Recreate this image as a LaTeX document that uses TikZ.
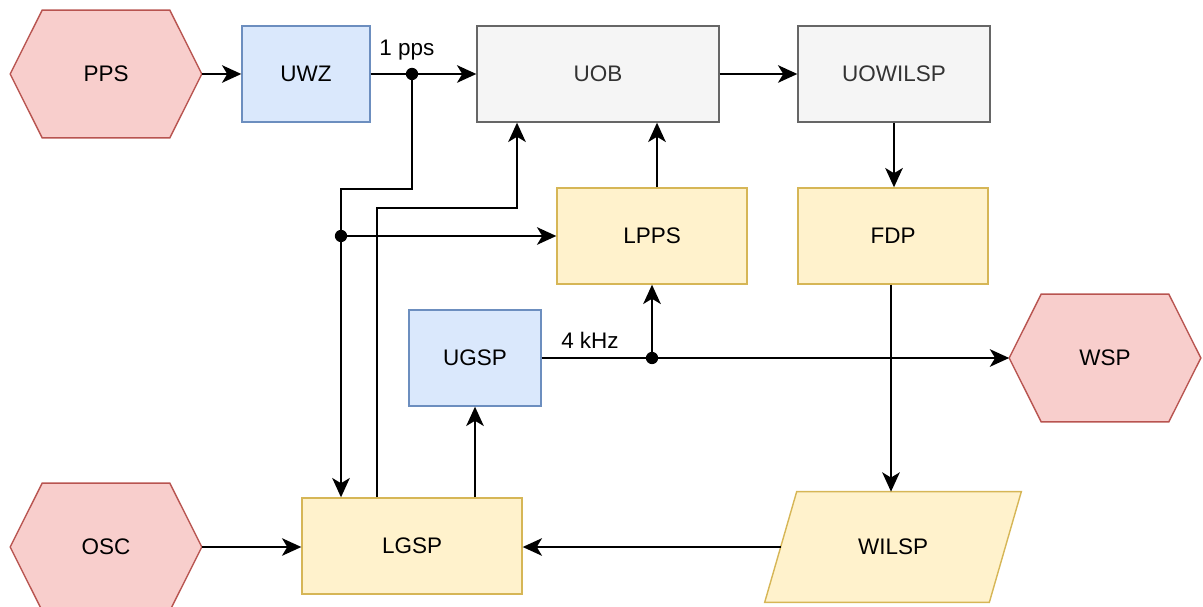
\documentclass[tikz,border=0pt]{standalone}
\usepackage{fontspec}
\setmainfont{Liberation Sans}
\usetikzlibrary{arrows.meta,backgrounds}
\definecolor{redfill}{HTML}{F8CECC}
\definecolor{redline}{HTML}{B85450}
\definecolor{bluefill}{HTML}{DAE8FC}
\definecolor{blueline}{HTML}{6C8EBF}
\definecolor{yelfill}{HTML}{FFF2CC}
\definecolor{yelline}{HTML}{D6B656}
\definecolor{grayfill}{HTML}{F5F5F5}
\definecolor{grayline}{HTML}{666666}
\definecolor{graytext}{HTML}{333333}
\tikzset{
  every node/.style={font=\fontsize{12.8}{15}\selectfont, inner sep=0pt},
  box/.style={draw, line width=0.8pt, minimum height=1.92cm},
  bluebox/.style={box, draw=blueline, fill=bluefill},
  yelbox/.style={box, draw=yelline, fill=yelfill},
  graybox/.style={box, draw=grayline, fill=grayfill, text=graytext},
  hexholder/.style={minimum width=3.82cm, minimum height=2.54cm},
  hexdraw/.style={draw=redline, fill=redfill, line width=0.8pt, line join=miter},
  paradraw/.style={draw=yelline, fill=yelfill, line width=0.8pt},
  arr/.style={draw=black, line width=1.1pt, -{Stealth[length=11pt,width=10pt,inset=3pt]}},
  dot/.style={circle, fill=black, minimum size=7pt, inner sep=0pt},
  lbl/.style={text=black}
}
\begin{document}
\begin{tikzpicture}[x=0.02cm, y=-0.02cm]
\useasboundingbox (0,0) rectangle (1203,607);

% blocks
\node[hexholder] (pps) at (106,74) {PPS};
\node[bluebox, minimum width=2.56cm] (uwz) at (306,74) {UWZ};
\node[graybox, minimum width=4.84cm] (uob) at (598,74) {UOB};
\node[graybox, minimum width=3.84cm] (uowilsp) at (894,74) {UOWILSP};
\node[yelbox, minimum width=3.80cm] (lpps) at (652,236) {LPPS};
\node[yelbox, minimum width=3.80cm] (fdp) at (893,236) {FDP};
\node[bluebox, minimum width=2.64cm] (ugsp) at (475,358) {UGSP};
\node[hexholder] (wsp) at (1105,358) {WSP};
\node[hexholder] (osc) at (106,547) {OSC};
\node[yelbox, minimum width=4.40cm] (lgsp) at (412,546) {LGSP};
\node[minimum width=5.12cm, minimum height=2.20cm] (wilsp) at (893,547) {WILSP};

% hexagon and parallelogram outlines behind their labels
\begin{scope}[on background layer]
  \foreach \h in {pps,wsp,osc}{
    \draw[hexdraw] ([xshift=0.64cm]\h.north west) -- ([xshift=-0.64cm]\h.north east)
      -- (\h.east) -- ([xshift=-0.64cm]\h.south east) -- ([xshift=0.64cm]\h.south west)
      -- (\h.west) -- cycle;
  }
  \draw[paradraw] ([xshift=0.64cm]wilsp.north west) -- (wilsp.north east)
    -- ([xshift=-0.64cm]wilsp.south east) -- (wilsp.south west) -- cycle;
\end{scope}

% junctions and bends
\coordinate (j1) at (412,74);
\coordinate (j2) at (341,236);
\coordinate (j3) at (652,358);
\coordinate (b1) at (341,189);
\coordinate (b2) at (377,208);
\coordinate (b3) at (517,208);
\coordinate (wl) at ([xshift=0.32cm]wilsp.west);

% connectors
\draw[arr] (pps.east) -- (uwz.west);
\draw[arr] (uwz.east) -- (uob.west);
\draw[arr] (j1) |- (b1) -- (b1 |- lgsp.north);
\draw[arr] (j2) -- (lpps.west);
\draw[arr] (b2 |- lgsp.north) -- (b2) -- (b3) -- (b3 |- uob.south);
\draw[arr] ([xshift=0.1cm]lpps.north) -- ([xshift=0.1cm]lpps.north |- uob.south);
\draw[arr] (uob.east) -- (uowilsp.west);
\draw[arr] (uowilsp.south) -- (uowilsp.south |- fdp.north);
\draw[arr] ([xshift=-0.04cm]fdp.south) -- ([xshift=-0.04cm]fdp.south |- wilsp.north);
\draw[arr] (ugsp.east) -- (wsp.west);
\draw[arr] (j3) -- (lpps.south);
\draw[arr] (ugsp.south |- lgsp.north) -- (ugsp.south);
\draw[arr] (osc.east) -- (osc.east -| lgsp.west);
\draw[arr] (wl) -- (wl -| lgsp.east);

\node[dot] at (j1) {};
\node[dot] at (j2) {};
\node[dot] at (j3) {};

% signal labels
\node[lbl] (l1) at (407,50) {1 pps};
\node[lbl] (l2) at (590,340) {4 kHz};
\end{tikzpicture}
\end{document}
